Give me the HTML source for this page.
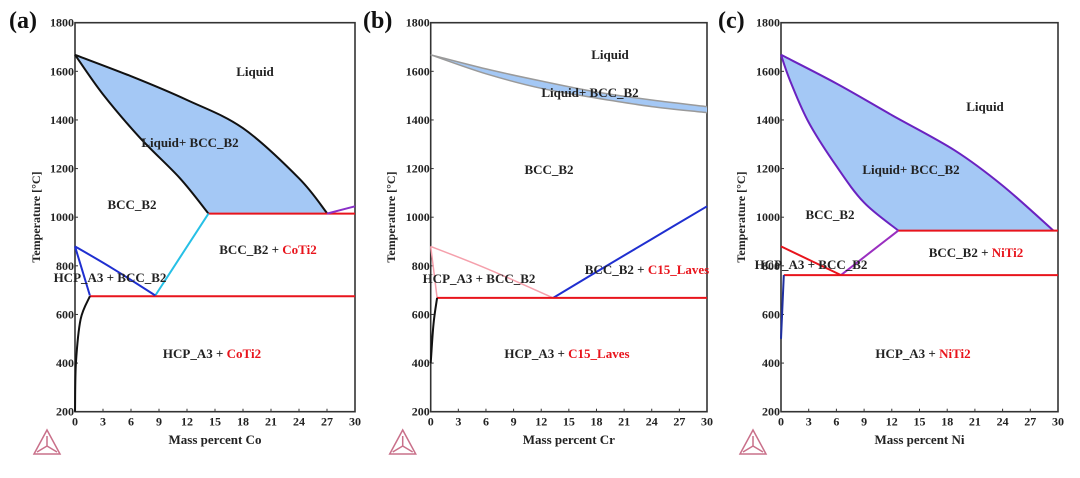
<!DOCTYPE html>
<html><head><meta charset="utf-8"><style>
body{margin:0;background:#fff;}
svg{display:block;font-family:"Liberation Serif",serif;font-weight:bold;}
</style></head><body>
<svg id="chart" width="1080" height="478" viewBox="0 0 1080 478"></svg>
<script>
// ---------- data ----------
const xTicks=[0,3,6,9,12,15,18,21,24,27,30];
const yTicks=[200,400,600,800,1000,1200,1400,1600,1800];
// Panel a (Co)
const aLiquidus=[[0,1668],[6,1580],[12,1482],[18,1366],[24,1160],[27,1017]];
const aSolidus=[[0,1668],[3,1505],[7,1325],[11.25,1160],[14.3,1015]];
const aEutectic=[[14.3,1015],[30,1015]];
const aPurple=[[27,1015],[30,1045]];
const aCyan=[[14.3,1015],[8.6,678]];
const aEutectoid=[[1.6,675],[30,675]];
const aBlue1=[[0,880],[4,790],[8.6,678]];
const aBlue2=[[0,880],[1.6,678]];
const aHcp=[[0,200],[0.1,400],[0.6,580],[1.6,675]];
// Panel b (Cr)
const bUpper=[[0,1668],[6,1610],[12,1560],[18,1515],[24,1482],[30,1455]];
const bLower=[[0,1668],[6,1590],[12,1530],[18,1490],[24,1455],[30,1430]];
const bPink1=[[0,880],[6,790],[13.3,668]];
const bPink2=[[0,880],[0.7,668]];
const bBlue=[[13.3,668],[18,775],[24,910],[30,1045]];
const bEutectoid=[[0.7,668],[30,668]];
const bHcp=[[0,400],[0.3,560],[0.7,668]];
// Panel c (Ni)
const cLiquidus=[[0,1668],[6,1550],[12,1420],[18.8,1275],[24,1130],[29.5,945]];
const cSolidus=[[0,1668],[1,1560],[3,1390],[6,1210],[9,1060],[12.7,945]];
const cEutectic=[[12.7,945],[30,945]];
const cPurple=[[12.7,945],[6.5,762]];
const cRed=[[0,880],[6.5,762]];
const cEutectoid=[[0.3,762],[30,762]];
const cBlue=[[0,500],[0.3,762]];

const NS="http://www.w3.org/2000/svg";
const svg=document.getElementById('chart');
function mk(tag,attrs,parent){const e=document.createElementNS(NS,tag);for(const k in attrs)e.setAttribute(k,attrs[k]);(parent||svg).appendChild(e);return e;}
const TOP=22.7,BOT=411.7;
function makeAxes(left,right){
  return {x:v=>left+(v/30)*(right-left), y:t=>TOP+(1800-t)/1600*(BOT-TOP)};
}
function smooth(ax,pts,cont){
  const P=pts.map(p=>[ax.x(p[0]),ax.y(p[1])]);
  let d=(cont?'L':'M')+P[0][0].toFixed(1)+' '+P[0][1].toFixed(1);
  for(let i=0;i<P.length-1;i++){
    const p0=P[Math.max(0,i-1)],p1=P[i],p2=P[i+1],p3=P[Math.min(P.length-1,i+2)];
    const c1=[p1[0]+(p2[0]-p0[0])/6,p1[1]+(p2[1]-p0[1])/6];
    const c2=[p2[0]-(p3[0]-p1[0])/6,p2[1]-(p3[1]-p1[1])/6];
    d+=` C${c1[0].toFixed(1)} ${c1[1].toFixed(1)} ${c2[0].toFixed(1)} ${c2[1].toFixed(1)} ${p2[0].toFixed(1)} ${p2[1].toFixed(1)}`;
  }
  return d;
}
function line(g,ax,pts,color,w,name){
  const p=mk('path',{d:smooth(ax,pts),fill:'none',stroke:color,'stroke-width':w,'stroke-linejoin':'round'},g);
  
  
}
function area(g,ax,upper,lower,name){
  const d=smooth(ax,upper)+' '+smooth(ax,lower.slice().reverse(),true)+'Z';
  const p=mk('path',{d:d,fill:'#a4c8f5',stroke:'none'},g);
  
  
}
function label(g,x,y,parts,name){
  const t=mk('text',{x:x,y:y,'font-size':13,'text-anchor':'middle'},g);
  
  
  parts.forEach(p=>{const s=mk('tspan',{fill:p[1]||'#222'},t);s.textContent=p[0];});
}
function panel(id,left,right,el,titleX,letterX){
  const g=mk('g',{});
  
  
  const ax=makeAxes(left,right);
  const fr=mk('rect',{x:left,y:TOP,width:right-left,height:BOT-TOP,fill:'none',stroke:'#333','stroke-width':1.6},g);
  
  
  xTicks.forEach(v=>{
    mk('line',{x1:ax.x(v),x2:ax.x(v),y1:BOT,y2:BOT-3,stroke:'#333'},g);
    const t=mk('text',{x:ax.x(v),y:BOT+14,'font-size':12,'text-anchor':'middle',fill:'#222'},g);
    
    
    t.textContent=v;
  });
  yTicks.forEach(v=>{
    mk('line',{x1:left,x2:left+3,y1:ax.y(v),y2:ax.y(v),stroke:'#333'},g);
    const t=mk('text',{x:left-1,y:ax.y(v)+4,'font-size':12,'text-anchor':'end',fill:'#222'},g);
    
    
    t.textContent=v;
  });
  const xt=mk('text',{x:(left+right)/2,y:444,'font-size':13,'text-anchor':'middle',fill:'#222'},g);
  
  
  xt.textContent='Mass percent '+el;
  const yt=mk('text',{x:0,y:0,'font-size':12,'text-anchor':'middle',fill:'#222',transform:`translate(${titleX},217) rotate(-90)`},g);
  
  
  yt.textContent='Temperature [°C]';
  const pl=mk('text',{x:letterX,y:28,'font-size':24,fill:'#111'},g);
  
  
  pl.textContent='('+id+')';
  const lx=left-41,ly=430;
  const lg=mk('g',{stroke:'#c9708a','stroke-width':1.5,fill:'none'},g);
  
  
  mk('path',{d:`M${lx} ${ly+24} L${lx+13} ${ly} L${lx+26} ${ly+24} Z M${lx+13} ${ly+16} L${lx+13} ${ly+6} M${lx+13} ${ly+16} L${lx+3} ${ly+22} M${lx+13} ${ly+16} L${lx+23} ${ly+22}`},lg);
  return {g,ax};
}
// Panel a
let P=panel('a',75,355,'Co',40,9);
area(P.g,P.ax,aLiquidus,aSolidus,'liquid-bcc-region');
line(P.g,P.ax,aLiquidus,'#111',2,'liquidus-line');
line(P.g,P.ax,aSolidus,'#111',2,'solidus-line');
line(P.g,P.ax,aEutectic,'#e8141c',2,'eutectic-line');
line(P.g,P.ax,aPurple,'#8a2fc8',2,'purple-line');
line(P.g,P.ax,aCyan,'#26c0e6',2,'cyan-line');
line(P.g,P.ax,aEutectoid,'#e8141c',2,'eutectoid-line');
line(P.g,P.ax,aBlue1,'#1f2fd0',2,'bcc-solvus-line');
line(P.g,P.ax,aBlue2,'#1f2fd0',2,'hcp-boundary-line');
line(P.g,P.ax,aHcp,'#111',2,'hcp-solvus-line');
label(P.g,255,76,[['Liquid']],'label-liquid');
label(P.g,190,147,[['Liquid+ BCC_B2']],'label-liquid-bcc');
label(P.g,132,209,[['BCC_B2']],'label-bcc');
label(P.g,268,254,[['BCC_B2 + '],['CoTi2','#e8141c']],'label-bcc-coti2');
label(P.g,110,282,[['HCP_A3 + BCC_B2']],'label-hcp-bcc');
label(P.g,212,358,[['HCP_A3 + '],['CoTi2','#e8141c']],'label-hcp-coti2');
// Panel b
P=panel('b',430.7,707,'Cr',395,363);
area(P.g,P.ax,bUpper,bLower,'liquid-bcc-region');
line(P.g,P.ax,bUpper,'#9a9a9a',1.5,'liquidus-line');
line(P.g,P.ax,bLower,'#9a9a9a',1.5,'solidus-line');
line(P.g,P.ax,bPink1,'#f5a0ac',1.5,'bcc-solvus-line');
line(P.g,P.ax,bPink2,'#f5a0ac',1.5,'hcp-boundary-line');
line(P.g,P.ax,bBlue,'#1f2fd0',2,'laves-solvus-line');
line(P.g,P.ax,bEutectoid,'#e8141c',2,'eutectoid-line');
line(P.g,P.ax,bHcp,'#111',2,'hcp-solvus-line');
label(P.g,610,59,[['Liquid']],'label-liquid');
label(P.g,590,97,[['Liquid+ BCC_B2']],'label-liquid-bcc');
label(P.g,549,174,[['BCC_B2']],'label-bcc');
label(P.g,647,274,[['BCC_B2 + '],['C15_Laves','#e8141c']],'label-bcc-laves');
label(P.g,479,283,[['HCP_A3 + BCC_B2']],'label-hcp-bcc');
label(P.g,567,358,[['HCP_A3 + '],['C15_Laves','#e8141c']],'label-hcp-laves');
// Panel c
P=panel('c',781,1058,'Ni',745,718);
area(P.g,P.ax,cLiquidus,cSolidus,'liquid-bcc-region');
line(P.g,P.ax,cLiquidus,'#6a22c0',2,'liquidus-line');
line(P.g,P.ax,cSolidus,'#6a22c0',2,'solidus-line');
line(P.g,P.ax,cEutectic,'#e8141c',2,'eutectic-line');
line(P.g,P.ax,cPurple,'#9a2fc0',2,'bcc-solvus-line');
line(P.g,P.ax,cRed,'#e8141c',2,'hcp-boundary-line');
line(P.g,P.ax,cEutectoid,'#e8141c',2,'eutectoid-line');
line(P.g,P.ax,cBlue,'#1f2fa0',2,'hcp-solvus-line');
label(P.g,985,111,[['Liquid']],'label-liquid');
label(P.g,911,174,[['Liquid+ BCC_B2']],'label-liquid-bcc');
label(P.g,830,219,[['BCC_B2']],'label-bcc');
label(P.g,976,257,[['BCC_B2 + '],['NiTi2','#e8141c']],'label-bcc-niti2');
label(P.g,811,269,[['HCP_A3 + BCC_B2']],'label-hcp-bcc');
label(P.g,923,358,[['HCP_A3 + '],['NiTi2','#e8141c']],'label-hcp-niti2');
</script>
</body></html>
